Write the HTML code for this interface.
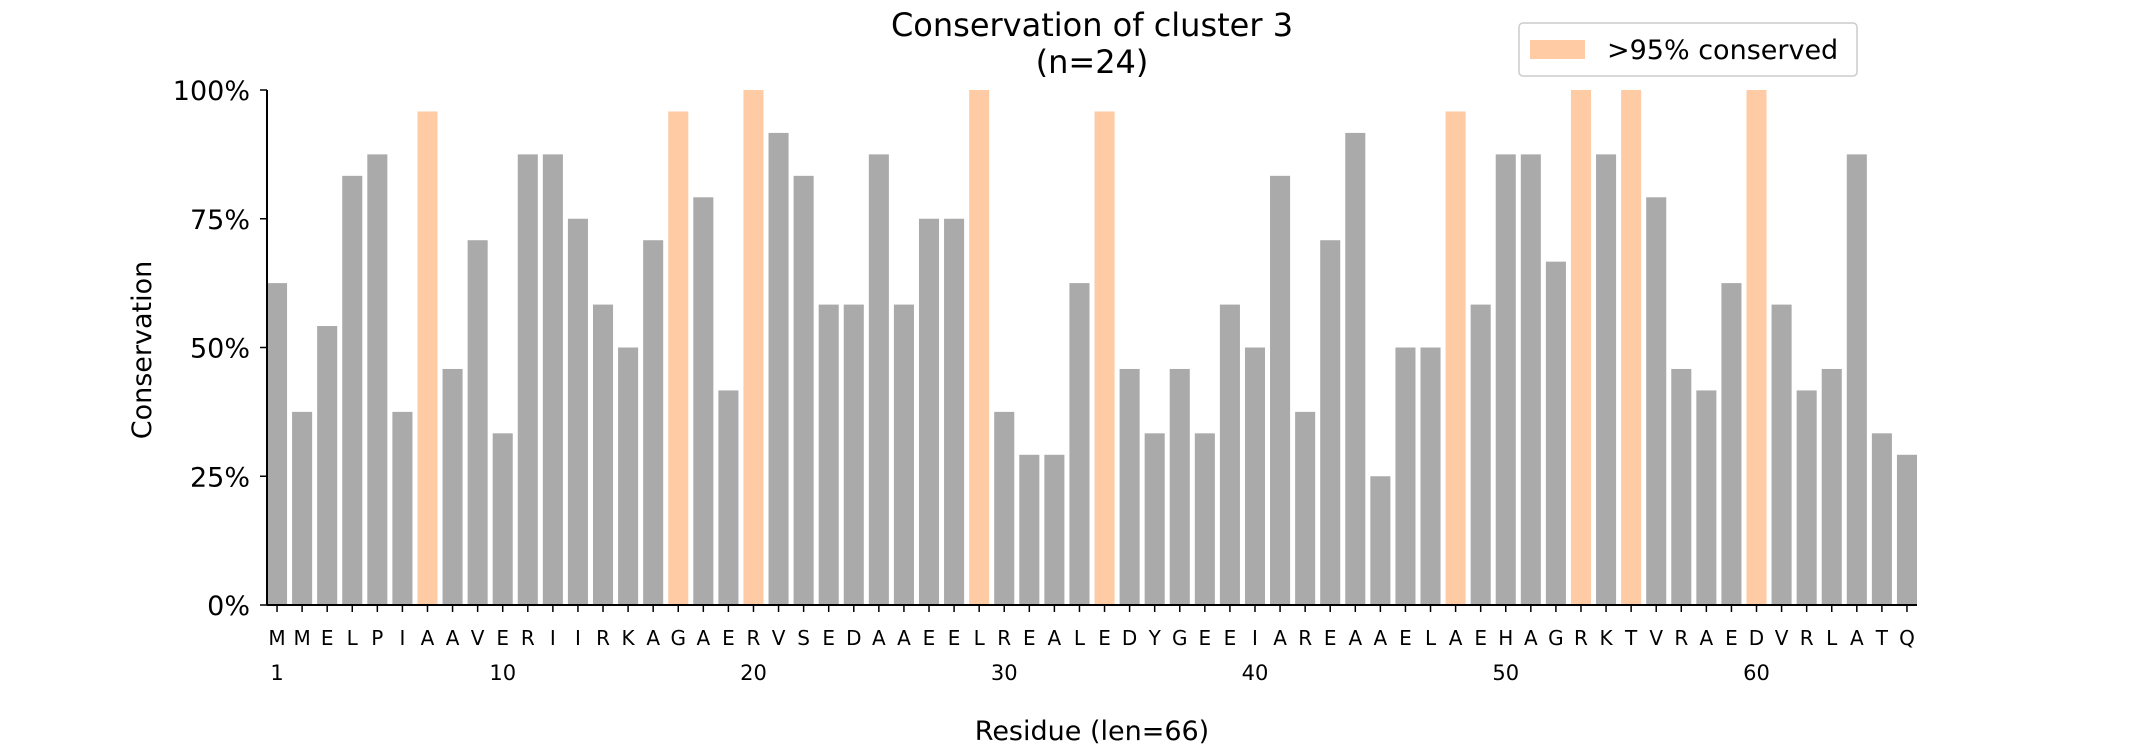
<!DOCTYPE html>
<html><head><meta charset="utf-8"><style>
html,body{margin:0;padding:0;background:#fff;}
svg{display:block;font-family:"DejaVu Sans","Liberation Sans",sans-serif;}
</style></head><body>
<svg id="chart" width="2130" height="750" viewBox="0 0 2130 750" xmlns="http://www.w3.org/2000/svg">
<text x="1092" y="36" font-size="32" text-anchor="middle">Conservation of cluster 3</text>
<text x="1092" y="73" font-size="32" text-anchor="middle">(n=24)</text>
<g id="bars"></g>
<g id="axes"></g>
<text transform="translate(151,350) rotate(-90)" font-size="27" text-anchor="middle">Conservation</text>
<text x="1092" y="740" font-size="27" text-anchor="middle">Residue (len=66)</text>
<g>
<rect x="1519" y="23" width="338" height="53" rx="4" fill="#fff" stroke="#ccc" stroke-width="1.5"/>
<rect x="1530" y="40" width="55" height="19" fill="#ffcba4"/>
<text x="1607" y="59" font-size="27">&gt;95% conserved</text>
</g>
</svg>
<script>
const residues = "MMELPIAAVERIIRKAGAERVSEDAAEELREALEDYGEEIAREAAELAEHAGRKTVRAEDVRLATQ".split("");
const counts = [15,9,13,20,21,9,23,11,17,8,21,21,18,14,12,17,23,19,10,24,22,20,14,14,21,14,18,18,24,9,7,7,15,23,11,8,11,8,14,12,20,9,17,22,6,12,12,23,14,21,21,16,24,21,24,19,11,10,15,24,14,10,11,21,8,7];
const nSeq = 24;
const yTicks = [0,0.25,0.5,0.75,1];
const yTickLabels = ["0%","25%","50%","75%","100%"];
const numTicks = [1,10,20,30,40,50,60];

const L=267,R=1917,T=90,B=605;
const xmin=-0.4,xmax=residues.length-0.6;
const x=i=>L+(i-xmin)/(xmax-xmin)*(R-L);
const y=v=>B-v*(B-T);
const NS="http://www.w3.org/2000/svg";
function mk(tag,attrs,parent,txt){const e=document.createElementNS(NS,tag);for(const k in attrs)e.setAttribute(k,attrs[k]);if(txt!==undefined)e.textContent=txt;parent.appendChild(e);return e;}
const bars=document.getElementById('bars'),axes=document.getElementById('axes');
counts.forEach((c,i)=>{
  const v=c/nSeq;
  const r=mk('rect',{x:x(i-0.4),y:y(v),width:x(0.4)-x(-0.4),height:B-y(v),fill:v>0.95?'#ffcba4':'#aaaaaa'},bars);
  
  
});
const ya=mk('line',{x1:L,y1:T,x2:L,y2:B,stroke:'#000','stroke-width':2},axes);


const xa=mk('line',{x1:L,y1:B,x2:R,y2:B,stroke:'#000','stroke-width':2},axes);


yTicks.forEach((t,k)=>{
  mk('line',{x1:L-7,y1:y(t),x2:L,y2:y(t),stroke:'#000','stroke-width':1.5},axes);
  const tx=mk('text',{x:L-17,y:y(t)+10,'font-size':27,'text-anchor':'end'},axes,yTickLabels[k]);
  
  
});
residues.forEach((r,i)=>{
  mk('line',{x1:x(i),y1:B,x2:x(i),y2:B+7,stroke:'#000','stroke-width':1.5},axes);
  const tx=mk('text',{x:x(i),y:B+40,'font-size':20,'text-anchor':'middle'},axes,r);
  
  
});
numTicks.forEach(n=>{
  const tx=mk('text',{x:x(n-1),y:B+75,'font-size':21,'text-anchor':'middle'},axes,String(n));
  
  
});
</script>
</body></html>
